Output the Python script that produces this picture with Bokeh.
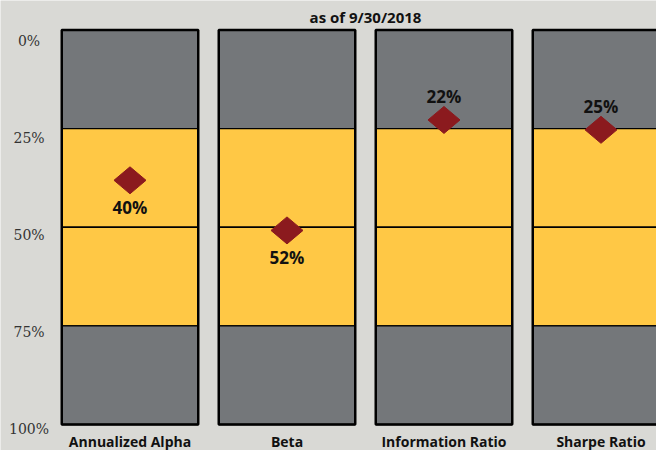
from bokeh.plotting import figure
from bokeh.models import Range1d, ColumnDataSource
from bokeh.core.properties import value
from bokeh.embed import file_html
from bokeh.resources import INLINE

# ---------------- data ----------------
subtitle = "as of 9/30/2018"
categories = ["Annualized Alpha", "Beta", "Information Ratio", "Sharpe Ratio"]
rank_labels = ["40%", "52%", "22%", "25%"]
marker_pct = [38.1, 50.8, 22.8, 25.3]
label_side = ["below", "below", "above", "above"]
band_edges = [0, 25, 50, 75, 100]
band_colors = ["#74777a", "#ffc845", "#ffc845", "#74777a"]
tick_values = [0, 25, 50, 75, 100]
tick_labels = ["0%", "25%", "50%", "75%", "100%"]

# ---------------- style ----------------
BG = "#d9d9d5"
RED = "#8b1a1e"
BAR_HALF = 0.4347      # half bar width in category units
DIAMOND_DX = 0.102     # half diamond width in category units
DIAMOND_DY = 3.42      # half diamond height in % units
SANS = value("Open Sans")
SERIF = value("DejaVu Serif")

idx = list(range(len(categories)))

p = figure(width=656, height=450, output_backend="svg", toolbar_location=None,
           x_range=Range1d(-0.8248, 3.3535), y_range=Range1d(106.59, -7.478),
           x_axis_location=None, y_axis_location=None, min_border=0,
           background_fill_color=BG, border_fill_color=BG, outline_line_color=None)
p.grid.visible = False
p.extra_y_ranges = {"ticks": Range1d(105.68, -10.51)}

# bands
bl, br, bb, bt, bc = [], [], [], [], []
for i in idx:
    for j, col in enumerate(band_colors):
        bl.append(i - BAR_HALF); br.append(i + BAR_HALF)
        bb.append(band_edges[j]); bt.append(band_edges[j + 1]); bc.append(col)
p.quad(left=bl, right=br, bottom=bb, top=bt, fill_color=bc,
       line_color="black", line_width=1.3)
# outer frame of each bar
p.quad(left=[i - BAR_HALF for i in idx], right=[i + BAR_HALF for i in idx],
       bottom=[band_edges[0]] * len(idx), top=[band_edges[-1]] * len(idx),
       fill_color=None, line_color="black", line_width=2.5)

# diamonds
xs = [[i - DIAMOND_DX, i, i + DIAMOND_DX, i] for i in idx]
ys = [[m, m - DIAMOND_DY, m, m + DIAMOND_DY] for m in marker_pct]
p.patches(xs=xs, ys=ys, fill_color=RED, line_color=RED, line_width=1)

# value labels
src = ColumnDataSource(dict(
    x=idx, y=marker_pct, t=rank_labels,
    off=[27 if s == "below" else -23 for s in label_side]))
p.text(x="x", y="y", text="t", y_offset="off", source=src,
       text_font=SANS, text_font_style="bold", text_font_size="17px",
       text_color="#111111", text_align="center", text_baseline="middle")

# category labels
p.text(x=idx, y=[band_edges[-1]] * len(idx), text=categories, y_offset=17,
       text_font=SANS, text_font_style="bold", text_font_size="14px",
       text_color="#111111", text_align="center", text_baseline="middle")

# y tick labels
p.text(x=[-0.643] * len(tick_values), y=tick_values, text=tick_labels,
       y_range_name="ticks",
       text_font=SERIF, text_font_size="14px", text_color="#333333",
       text_align="center", text_baseline="middle")

# subtitle
p.text(x=[sum(idx) / len(idx)], y=[band_edges[0]], text=[subtitle], y_offset=-13.5,
       text_font=SANS, text_font_style="bold", text_font_size="15px",
       text_color="#111111", text_align="center", text_baseline="middle")

open("out.html", "w").write(file_html(p, INLINE))
